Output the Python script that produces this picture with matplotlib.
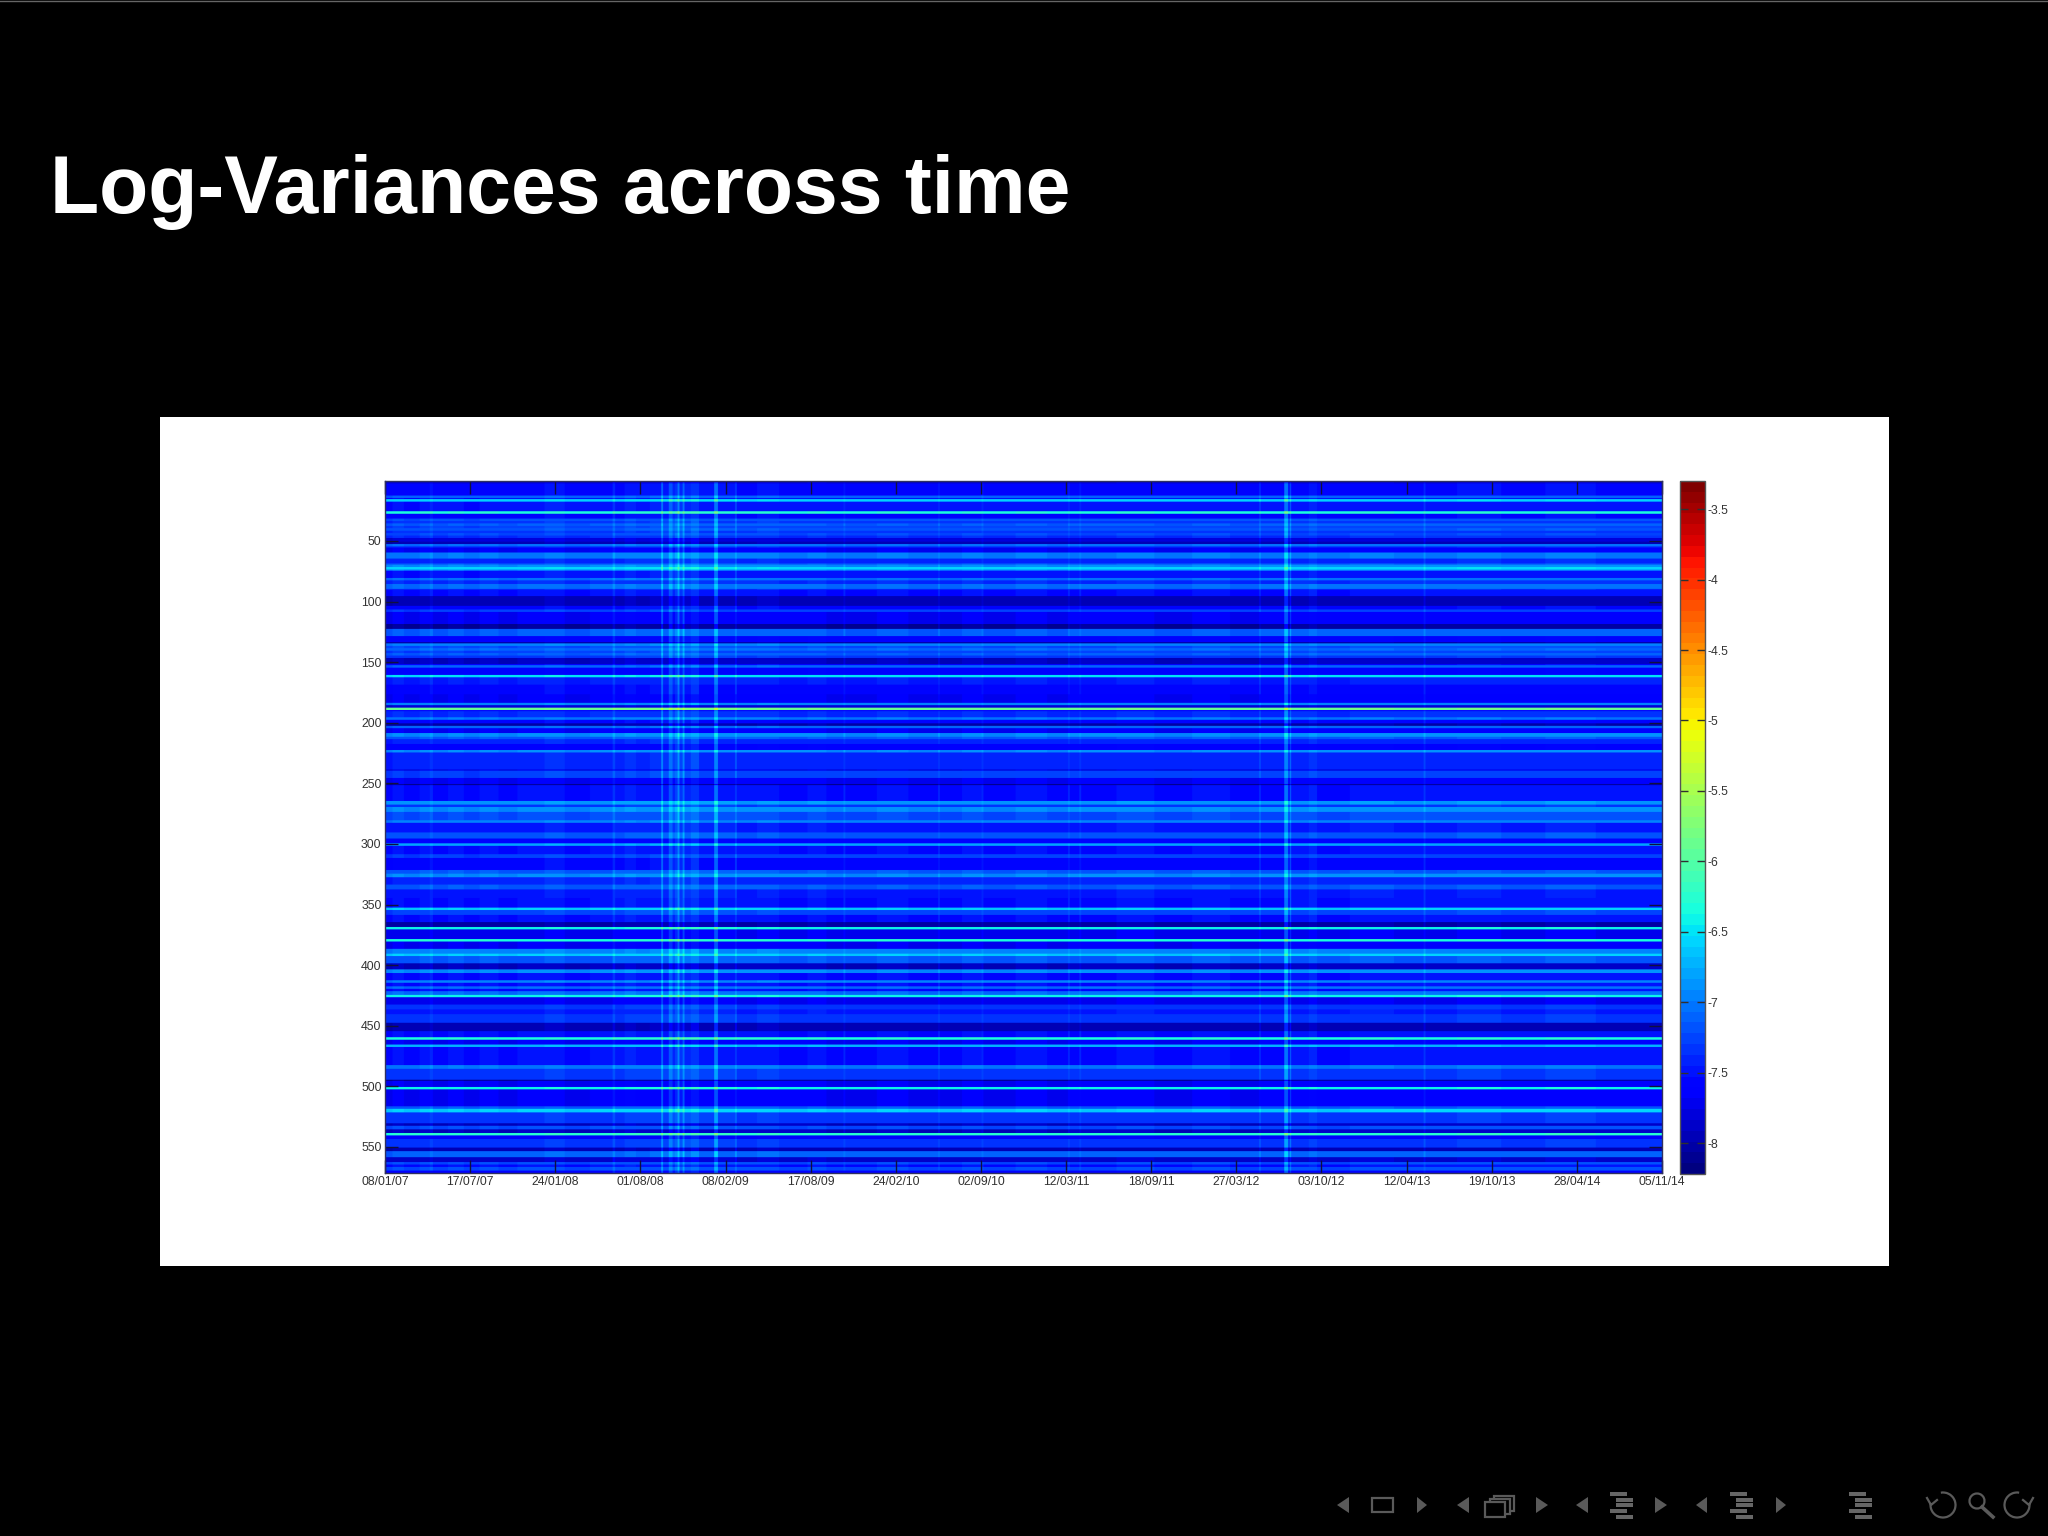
import numpy as np
import matplotlib
matplotlib.use('Agg')
import matplotlib.pyplot as plt
from matplotlib.patches import Rectangle, Polygon, Arc

plt.rcParams['font.family'] = ['Liberation Sans', 'DejaVu Sans']

N_ROWS = 571
N_DAYS = 2025

# log-variance level of each band of rows
row_starts = [0, 2, 12, 14, 15, 17, 25, 27, 31, 33, 35, 37, 39, 41, 43, 45, 47, 50, 52, 54, 55,
              59, 64, 68, 69, 71, 73, 74, 80, 82, 85, 89, 90, 95, 103, 106, 108, 118, 122, 128, 133, 134, 136,
              138, 140, 142, 144, 146, 151, 152, 154, 160, 162, 168, 176, 183, 185, 187, 189,
              190, 195, 197, 200, 202, 204, 208, 211, 213, 217, 222, 224, 238, 239, 245, 250, 251, 264, 267, 269,
              273, 280, 282, 290, 295, 299, 301, 308, 311, 321, 324, 327, 333, 337, 344, 352, 354, 358, 364, 368,
              370, 378, 380, 386, 390, 392, 398, 403, 406, 412, 414, 417, 419, 421, 424, 426, 432, 436, 440, 447,
              454, 459, 461, 465, 467, 482, 485, 494, 495, 500, 502, 516, 518, 521, 530, 532, 535, 538, 540, 543,
              550, 553, 558, 562, 564, 566, 569]
row_levels = [-7.9, -7.6, -7.15, -7.55, -6.6, -7.55, -6.35, -7.6, -7.25, -7.38, -7.18, -7.32, -7.22, -7.38, -7.28, -7.42, -7.85, -8.0, -7.1, -7.45, -7.72,
              -7.05, -7.45, -7.2, -6.95, -6.6, -6.95, -7.55, -7.1, -7.42, -7.1, -7.45, -7.57, -8.0, -7.6, -7.32, -7.72, -8.1, -7.18, -7.67, -8.05, -7.0, -7.27,
              -7.12, -7.32, -7.18, -7.37, -7.95, -7.6, -7.15, -7.67, -6.55, -7.5, -7.62, -7.72, -7.0, -7.85, -5.9, -7.67,
              -7.42, -7.05, -7.62, -8.05, -7.15, -7.72, -6.95, -7.2, -7.47, -7.67, -6.95, -7.47, -7.8, -7.32, -7.72, -8.1, -7.57, -6.9, -7.37, -6.95,
              -7.27, -7.0, -7.52, -7.22, -7.67, -6.85, -7.57, -7.32, -7.62, -7.2, -6.95, -7.47, -7.2, -7.52, -7.57, -6.65, -7.3, -7.57, -8.05, -6.45,
              -7.75, -6.35, -7.72, -7.0, -6.65, -7.2, -7.95, -6.95, -7.57, -7.0, -7.57, -7.1, -7.57, -7.1, -6.45, -7.75, -7.37, -7.52, -7.37, -8.0,
              -7.57, -6.35, -7.72, -6.75, -7.57, -7.05, -7.37, -8.1, -7.72, -6.45, -7.72, -7.2, -6.65, -7.37, -7.95, -7.27, -7.95, -6.3, -7.67, -7.37,
              -8.0, -7.15, -7.9, -7.27, -7.57, -7.27, -7.67]

# brightening of each stretch of days
day_starts = [0, 12, 30, 55, 71, 76, 100, 125, 150, 180, 210, 253, 285, 325, 361, 365, 380, 398, 420, 438, 441,
              450, 456, 460, 464, 467, 472, 475, 485, 498, 522, 528, 555, 558, 590, 625, 670, 700, 727, 730, 780,
              830, 877, 880, 915, 946, 949, 1000, 1050, 1083, 1086, 1101, 1104, 1160, 1220, 1280, 1340, 1386, 1389, 1426, 1432,
              1435, 1437, 1465, 1478, 1530, 1600, 1647, 1650, 1700, 1770, 1840, 1920]
day_offsets = [0.0, 0.05, 0.02, 0.06, 0.14, 0.03, 0.06, 0.02, 0.06, 0.03, 0.05, 0.1, 0.03, 0.05, 0.22, 0.07, 0.12, 0.08, 0.1, 0.5, 0.1,
               0.42, 0.18, 0.3, 0.6, 0.2, 0.5, 0.15, 0.25, 0.08, 0.55, 0.08, 0.26, 0.06, 0.09, 0.04, 0.07, 0.03, 0.12, 0.03, 0.06,
               0.03, 0.12, 0.03, 0.06, 0.12, 0.03, 0.06, 0.03, 0.12, 0.04, 0.12, 0.04, 0.07, 0.03, 0.06, 0.03, 0.18, 0.04, 0.55, 0.1,
               0.35, 0.05, 0.12, 0.04, 0.07, 0.05, 0.2, 0.05, 0.08, 0.05, 0.08, 0.05]

date_labels = ['08/01/07', '17/07/07', '24/01/08', '01/08/08', '08/02/09', '17/08/09', '24/02/10', '02/09/10',
               '12/03/11', '18/09/11', '27/03/12', '03/10/12', '12/04/13', '19/10/13', '28/04/14', '05/11/14']
row_ticks = [50, 100, 150, 200, 250, 300, 350, 400, 450, 500, 550]
cbar_ticks = [-8, -7.5, -7, -6.5, -6, -5.5, -5, -4.5, -4, -3.5]
cbar_labels = ['-8', '-7.5', '-7', '-6.5', '-6', '-5.5', '-5', '-4.5', '-4', '-3.5']
VMIN, VMAX = -8.22, -3.3

rows = np.repeat(row_levels, np.diff(row_starts + [N_ROWS]))
days = np.repeat(day_offsets, np.diff(day_starts + [N_DAYS]))
log_var = rows[:, None] + days[None, :]

W, H = 2048, 1536
fig = plt.figure(figsize=(W / 100, H / 100), dpi=100, facecolor='black')


def px_axes(left, top, right, bottom):
    return fig.add_axes([left / W, 1 - bottom / H, (right - left) / W, (bottom - top) / H])


# slide background, in pixels
bg = fig.add_axes([0, 0, 1, 1])
bg.set_xlim(0, W)
bg.set_ylim(H, 0)
bg.axis('off')
bg.add_patch(Rectangle((160, 417), 1729, 849, facecolor='white', edgecolor='none'))
bg.plot([0, W], [0.5, 0.5], color='#666666', lw=1)
bg.text(50, 213, 'Log-Variances across time', color='white', fontsize=58, fontweight='bold',
        ha='left', va='baseline')

# beamer navigation symbols
ICON = '#5a5a5a'


def left_tri(x0, x1):
    bg.add_patch(Polygon([(x1, 1497), (x1, 1513), (x0, 1505)], facecolor=ICON, edgecolor='none'))


def right_tri(x0, x1):
    bg.add_patch(Polygon([(x0, 1497), (x0, 1513), (x1, 1505)], facecolor=ICON, edgecolor='none'))


def lines_icon(x0, x1):
    for i, y in enumerate([1492, 1498, 1503, 1509, 1515]):
        if i in (0, 3):
            a, b = x0, x1 - 6
        else:
            a, b = x0 + 6, x1
        bg.add_patch(Rectangle((a, y), b - a, 3.6, facecolor='#666666', edgecolor='none'))


left_tri(1337, 1349)
bg.add_patch(Rectangle((1372, 1498), 21, 14, facecolor='none', edgecolor=ICON, lw=1.6))
right_tri(1417, 1427)
left_tri(1457, 1469)
for dx, dy in [(9, -6), (4.5, -3), (0, 0)]:
    bg.add_patch(Rectangle((1485 + dx, 1502 + dy), 20, 15, facecolor='black', edgecolor=ICON, lw=1.6))
right_tri(1536, 1548)
left_tri(1576, 1588)
lines_icon(1610, 1633)
right_tri(1655, 1667)
left_tri(1696, 1707)
lines_icon(1730, 1753)
right_tri(1776, 1786)
lines_icon(1849, 1872)

bg.add_patch(Arc((1943, 1505), 25, 25, theta1=-100, theta2=190, edgecolor=ICON, lw=1.6))
bg.plot([1927, 1931, 1937], [1498, 1505, 1500], color=ICON, lw=1.6)
bg.add_patch(Arc((1977, 1501), 15, 15, edgecolor=ICON, lw=1.6))
bg.plot([1982, 1993], [1507, 1517], color=ICON, lw=2.6)
bg.add_patch(Arc((2017, 1505), 25, 25, theta1=-10, theta2=280, edgecolor=ICON, lw=1.6))
bg.plot([2023, 2029, 2033], [1500, 1505, 1498], color=ICON, lw=1.6)

# heat map
ax = px_axes(385, 481, 1662, 1173)
cmap = plt.get_cmap('jet', 64)
im = ax.imshow(log_var, cmap=cmap, vmin=VMIN, vmax=VMAX, aspect='auto', interpolation='hanning',
               interpolation_stage='rgba', extent=[0, N_DAYS, N_ROWS + 0.5, 0.5])
ax.set_xticks(np.arange(len(date_labels)) * N_DAYS / (len(date_labels) - 1))
ax.set_xticklabels(date_labels)
ax.set_yticks(row_ticks)
ax.tick_params(direction='in', length=9.4, width=1, color='#101040', top=True, right=True,
               labelsize=8.8, labelcolor='#333333', pad=2.5)
for s in ax.spines.values():
    s.set_color('#303060')
    s.set_linewidth(1)

cax = px_axes(1680, 481, 1705, 1174)
cb = fig.colorbar(im, cax=cax)
cb.set_ticks(cbar_ticks)
cb.set_ticklabels(cbar_labels)
cax.tick_params(direction='in', length=5.5, width=1, color='#303030', left=True, right=True,
                labelsize=8.8, labelcolor='#333333', pad=1.5)
cb.outline.set_edgecolor('#555555')
cb.outline.set_linewidth(1)

fig.savefig('out.png', dpi=100, facecolor='black')
print("Saved out.png")
